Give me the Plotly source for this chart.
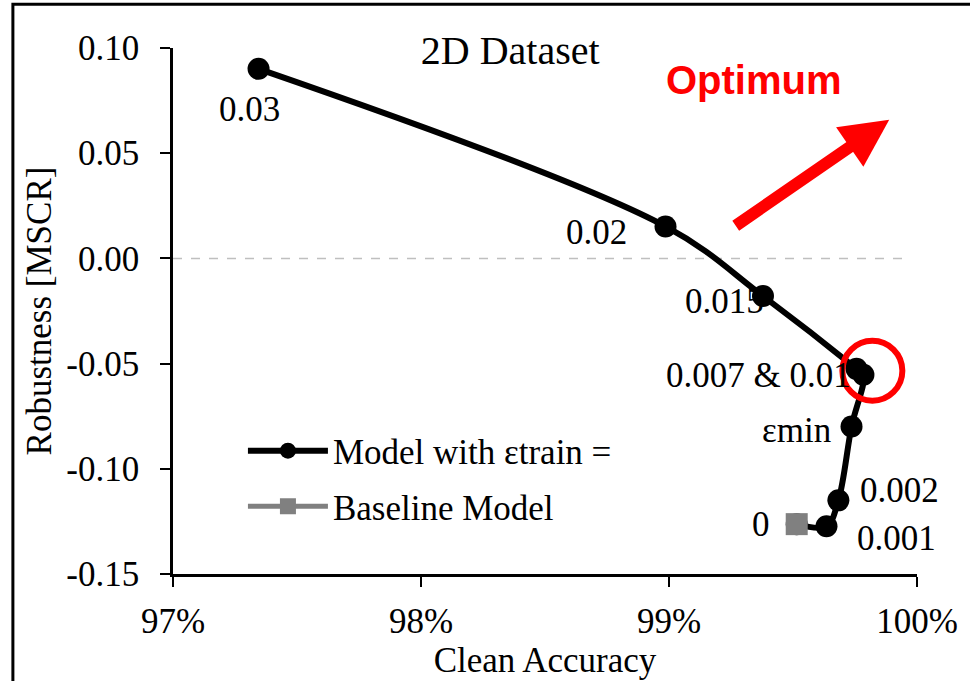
import plotly.graph_objects as go

# ---- data ----
eps_labels = ["0.03", "0.02", "0.015", "0.01", "0.007", "εmin", "0.002", "0.001", "0"]
model_acc = [0.97345, 0.98986, 0.99379, 0.99756, 0.99784, 0.99736, 0.99683, 0.99635, 0.99515]
model_rob = [0.0901, 0.0152, -0.0179, -0.0525, -0.0553, -0.0799, -0.1150, -0.1273, -0.1263]

baseline_acc = [0.99515]
baseline_rob = [-0.1263]

x_tick_vals = [0.97, 0.98, 0.99, 1.00]
x_tick_text = ["97%", "98%", "99%", "100%"]
y_tick_vals = [-0.15, -0.10, -0.05, 0.00, 0.05, 0.10]
y_tick_text = ["-0.15", "-0.10", "-0.05", "0.00", "0.05", "0.10"]

# point labels shown on the chart (text, index of point)
point_labels = [("0.03", 0), ("0.02", 1), ("0.015", 2), ("0.007 & 0.01", 3),
                ("εmin", 5), ("0.002", 6), ("0.001", 7), ("0", 8)]
# label placement (styling): xanchor, xshift, yshift
label_style = {
    "0.03": ("center", -9, -41),
    "0.02": ("right", -37, -6),
    "0.015": ("right", 3, -5),
    "0.007 & 0.01": ("right", -3, -7),
    "εmin": ("right", -19, -4),
    "0.002": ("left", 20, 10),
    "0.001": ("left", 29, -12),
    "0": ("right", -25, 0),
}

SERIF = "Liberation Serif, Times New Roman, serif"
FS = 35

fig = go.Figure()
fig.add_trace(go.Scatter(
    x=model_acc, y=model_rob, mode="lines+markers",
    name="Model with εtrain =", legendgroup="model",
    line=dict(color="black", width=6, shape="spline", smoothing=1.0),
    marker=dict(color="black", size=22, symbol="circle"),
))
fig.add_trace(go.Scatter(
    x=baseline_acc, y=baseline_rob, mode="lines+markers",
    name="Baseline Model", legendgroup="base",
    line=dict(color="#808080", width=5),
    marker=dict(color="#808080", size=22, symbol="square"),
))

annotations = []
for text, idx in point_labels:
    xa, xs, ys = label_style[text]
    annotations.append(dict(
        x=model_acc[idx], y=model_rob[idx], xref="x", yref="y",
        text=text, showarrow=False, xanchor=xa, yanchor="middle",
        xshift=xs, yshift=ys, font=dict(family=SERIF, size=FS, color="black"),
    ))

# "Optimum" text and arrow
annotations.append(dict(
    x=0.99343, y=0.0848, xref="x", yref="y", text="<b>Optimum</b>",
    showarrow=False, xanchor="center", yanchor="middle",
    font=dict(family="Liberation Sans, Arial, sans-serif", size=40, color="#FF0000"),
))
annotations.append(dict(
    x=0.99888, y=0.0659, xref="x", yref="y", text="",
    showarrow=True, ax=-155, ay=107, axref="pixel", ayref="pixel",
    arrowhead=2, arrowsize=0.8, arrowwidth=12, arrowcolor="#FF0000",
))

fig.update_layout(
    width=970, height=681,
    margin=dict(l=173, r=49, t=48, b=105),
    paper_bgcolor="white", plot_bgcolor="white",
    font=dict(family=SERIF, size=FS, color="black"),
    title=dict(text="2D Dataset", x=0.526, y=1 - 50 / 681, xanchor="center",
               yanchor="middle", font=dict(family=SERIF, size=40, color="black")),
    showlegend=True,
    legend=dict(x=0.094, y=0.29, xanchor="left", yanchor="top",
                bgcolor="rgba(0,0,0,0)", font=dict(family=SERIF, size=FS),
                itemwidth=80, traceorder="grouped", tracegroupgap=7),
    annotations=annotations,
    xaxis=dict(range=[0.97, 1.0], tickvals=x_tick_vals, ticktext=x_tick_text,
               showgrid=False, zeroline=False, showline=True, linecolor="black",
               linewidth=2.5, ticks="outside", ticklen=10, tickwidth=2,
               tickcolor="black", ticklabelstandoff=4,
               tickfont=dict(family=SERIF, size=FS),
               title=dict(text="Clean Accuracy", standoff=4,
                          font=dict(family=SERIF, size=FS))),
    yaxis=dict(range=[-0.15, 0.10], tickvals=y_tick_vals, ticktext=y_tick_text,
               showgrid=False, zeroline=False, showline=True, linecolor="black",
               linewidth=2.5, ticks="outside", ticklen=10, tickwidth=2,
               tickcolor="black", ticklabelstandoff=14,
               tickfont=dict(family=SERIF, size=FS),
               title=dict(text="Robustness [MSCR]", standoff=5,
                          font=dict(family=SERIF, size=FS))),
    shapes=[
        # dashed zero reference line
        dict(type="line", xref="x", yref="y", x0=0.97, x1=0.9996, y0=0, y1=0,
             line=dict(color="#BFBFBF", width=1.5, dash="dash"), layer="below"),
        # red circle around optimum point (pixel sized)
        dict(type="circle", xref="x", yref="y", xsizemode="pixel", ysizemode="pixel",
             xanchor=0.99820, yanchor=-0.05341, x0=-30, x1=30, y0=-30, y1=30,
             line=dict(color="#FF0000", width=6)),
        # outer frame (cropped at right/bottom)
        dict(type="rect", xref="paper", yref="paper", x0=-0.2152, x1=1.3,
             y0=-0.5, y1=1.0833, line=dict(color="black", width=3)),
    ],
)

fig.write_html("out.html")
